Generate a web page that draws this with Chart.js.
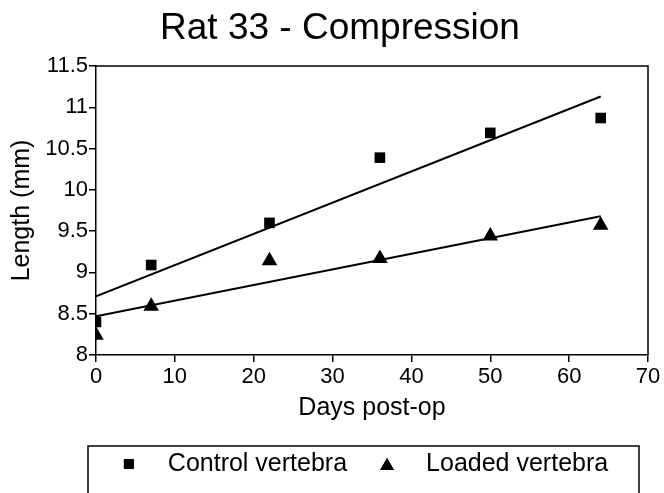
<!DOCTYPE html>
<html>
<head>
<meta charset="utf-8">
<script src="https://cdn.jsdelivr.net/npm/chart.js@4"></script>
<style>
  html, body { margin: 0; padding: 0; background: #fff; overflow: hidden; }
  #wrap { width: 664px; height: 493px; overflow: hidden; }
</style>
</head>
<body>
<div id="wrap"><canvas id="myChart" width="664" height="520"></canvas></div>
<script>
// days post-op
const days = [0, 7, 22, 36, 50, 64];
const control = [8.40, 9.09, 9.60, 10.39, 10.69, 10.87];  // 사각형
const loaded = [8.24, 8.59, 9.14, 9.17, 9.44, 9.57];      // 삼각형

const fitDays = [0, 64];
const controlFit = [8.71, 11.13];
const loadedFit = [8.47, 9.68];

const chartTitle = 'Rat 33 - Compression';
const seriesNames = ['Control vertebra', 'Loaded vertebra'];
const xTicks = [0, 10, 20, 30, 40, 50, 60, 70];
const yTicks = [8, 8.5, 9, 9.5, 10, 10.5, 11, 11.5];

const FONT = "'Liberation Sans', Arial, Helvetica, sans-serif";

function pts(xs, ys) {
  return xs.map((x, i) => ({ x: x, y: ys[i] }));
}

// title, frame on top and right + boxed legend under the axis
const framePlugin = {
  id: 'frame',
  afterDraw(chart) {
    const ctx = chart.ctx;
    const a = chart.chartArea;
    ctx.save();
    ctx.fillStyle = '#000';
    ctx.font = '37px ' + FONT;
    ctx.textAlign = 'center';
    ctx.textBaseline = 'alphabetic';
    ctx.fillText(chartTitle, 340, 39);

    ctx.strokeStyle = '#000';
    ctx.lineWidth = 1.5;
    ctx.beginPath();
    ctx.moveTo(a.left, a.top);
    ctx.lineTo(a.right, a.top);
    ctx.lineTo(a.right, a.bottom);
    ctx.stroke();

    // legend box
    const bx = 88, by = 446, bw = 551, bh = 90;
    ctx.strokeRect(bx, by, bw, bh);

    ctx.font = '25px ' + FONT;
    ctx.textAlign = 'left';
    ctx.textBaseline = 'middle';
    const items = chart.data.datasets.filter(d => !d.isFit);
    const gap = 39, itemGap = 40;
    const widths = items.map(d => ctx.measureText(d.label).width);
    let total = 6;
    widths.forEach((w, i) => { total += gap + w + (i < widths.length - 1 ? itemGap : 0); });
    let x = bx + bw / 2 - total / 2 + 8;
    const cy = 464;
    items.forEach((d, i) => {
      Chart.helpers.drawPoint(ctx, {
        pointStyle: d.pointStyle,
        radius: d.legendRadius,
        rotation: 0,
        borderWidth: 0
      }, x, d.pointStyle === 'triangle' ? cy + 2 : cy);
      ctx.fill();
      ctx.fillText(d.label, x + gap, cy);
      x += gap + widths[i] + itemGap;
    });
    ctx.restore();
  }
};

const ctx = document.getElementById('myChart');
new Chart(ctx, {
  type: 'scatter',
  data: {
    datasets: [
      {
        label: seriesNames[0],
        data: pts(days, control),
        pointStyle: 'rect',
        pointRadius: 7.5,
        legendRadius: 7,
        backgroundColor: '#000',
        borderColor: '#000',
        borderWidth: 0
      },
      {
        label: seriesNames[1],
        data: pts(days, loaded),
        pointStyle: 'triangle',
        pointRadius: 9,
        legendRadius: 8,
        backgroundColor: '#000',
        borderColor: '#000',
        borderWidth: 0
      },
      {
        label: 'control fit',
        isFit: true,
        data: pts(fitDays, controlFit),
        showLine: true,
        pointRadius: 0,
        borderColor: '#000',
        borderWidth: 2
      },
      {
        label: 'loaded fit',
        isFit: true,
        data: pts(fitDays, loadedFit),
        showLine: true,
        pointRadius: 0,
        borderColor: '#000',
        borderWidth: 2
      }
    ]
  },
  options: {
    responsive: false,
    animation: false,
    layout: { padding: { left: 0, right: 16, top: 66, bottom: 90 } },
    plugins: {
      legend: { display: false },
      tooltip: { enabled: false },
      title: { display: false }
    },
    scales: {
      x: {
        type: 'linear',
        min: xTicks[0],
        max: xTicks[xTicks.length - 1],
        afterBuildTicks: s => { s.ticks = xTicks.map(v => ({ value: v })); },
        afterFit: s => { s.height = 75; },
        ticks: {
          color: '#000', padding: 2, font: { family: FONT, size: 22 },
          callback: v => String(v)
        },
        grid: { drawOnChartArea: false, color: '#000', lineWidth: 1.5, tickLength: 7 },
        border: { color: '#000', width: 1.5 },
        title: {
          display: true,
          text: 'Days post-op',
          color: '#000',
          font: { family: FONT, size: 25, lineHeight: 1.2 },
          padding: { top: 0, bottom: 7 }
        }
      },
      y: {
        type: 'linear',
        min: yTicks[0],
        max: yTicks[yTicks.length - 1],
        afterBuildTicks: s => { s.ticks = yTicks.map(v => ({ value: v })); },
        afterFit: s => { s.width = 96; },
        ticks: {
          color: '#000', padding: 1, font: { family: FONT, size: 22 },
          callback: v => String(v)
        },
        grid: { drawOnChartArea: false, color: '#000', lineWidth: 1.5, tickLength: 7 },
        border: { color: '#000', width: 1.5 },
        title: {
          display: true,
          text: 'Length (mm)',
          color: '#000',
          font: { family: FONT, size: 25, lineHeight: 1.2 },
          padding: { top: 7, bottom: 0 }
        }
      }
    }
  },
  plugins: [framePlugin]
});
</script>
</body>
</html>
